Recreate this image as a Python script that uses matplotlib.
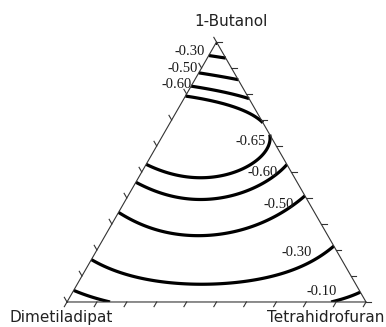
import numpy as np
import matplotlib
matplotlib.use("Agg")
import matplotlib.pyplot as plt
import matplotlib.tri as mtri

# components: A = 1-Butanol (top), B = Dimetiladipat (left), C = Tetrahidrofuran (right)
COMPONENTS = ["1-Butanol", "Dimetiladipat", "Tetrahidrofuran"]

# Scheffe quartic mixture model coefficients
LINEAR = [-0.078, 0.003, -0.053]          # A, B, C
BINARY = [-2.369, -2.055, -0.640]         # AB, AC, BC
CUBIC = [-1.276, -1.472, -0.171]          # AB(A-B), AC(A-C), BC(B-C)
QUARTIC = [-1.353, -0.663, -0.017]        # AB(A-B)^2, AC(A-C)^2, BC(B-C)^2
TERNARY = [7.156, -1.462, -1.703]         # A2BC, AB2C, ABC2

LEVELS = [-0.65, -0.60, -0.50, -0.30, -0.10]
LABELS = ["-0.30", "-0.50", "-0.60", "-0.65", "-0.60", "-0.50", "-0.30", "-0.10"]

H = np.sqrt(3) / 2


def response(a, b, c):
    z = LINEAR[0] * a + LINEAR[1] * b + LINEAR[2] * c
    pairs = [(a, b), (a, c), (b, c)]
    for k, (p, q) in enumerate(pairs):
        z += BINARY[k] * p * q
        z += CUBIC[k] * p * q * (p - q)
        z += QUARTIC[k] * p * q * (p - q) ** 2
    abc = a * b * c
    z += TERNARY[0] * abc * a + TERNARY[1] * abc * b + TERNARY[2] * abc * c
    return z


def to_xy(a, c):
    return c + a / 2, a * H


fig = plt.figure(figsize=(3.86, 3.27), dpi=100)
ax = fig.add_axes([0.1736, 0.0765, 0.7746, 0.795])
ax.set_xlim(0, 1)
ax.set_ylim(0, H)
ax.axis("off")

# triangular grid over the simplex
n = 160
ii, jj = np.meshgrid(np.arange(n + 1), np.arange(n + 1), indexing="ij")
keep = ii + jj <= n
a = ii[keep] / n
c = jj[keep] / n
b = 1 - a - c
x, y = to_xy(a, c)
tri = mtri.Triangulation(x, y)
z = response(a, b, c)

ax.tricontour(tri, z, levels=LEVELS, colors="black", linewidths=2.3,
              linestyles="solid")

# frame and ticks
edge = "#333333"
ax.plot([0, 1, 0.5, 0], [0, 0, H, 0], color=edge, lw=0.8, clip_on=False)
tl = 0.018
for k in range(11):
    t = k / 10
    # bottom edge (Tetrahidrofuran)
    ax.plot([t, t - 0.5 * tl], [0, -H * tl], color=edge, lw=0.8, clip_on=False)
    # right edge (1-Butanol)
    px, py = to_xy(t, 1 - t)
    ax.plot([px, px + tl], [py, py], color=edge, lw=0.8, clip_on=False)
    # left edge (Dimetiladipat)
    px, py = to_xy(1 - t, 0)
    ax.plot([px, px - 0.5 * tl], [py, py + H * tl], color=edge, lw=0.8, clip_on=False)

# contour value labels
label_pos = [(0.411, 0.834), (0.388, 0.779), (0.365, 0.726), (0.614, 0.535),
             (0.654, 0.430), (0.707, 0.324), (0.768, 0.164), (0.851, 0.035)]
for txt, (lx, ly) in zip(LABELS, label_pos):
    ax.text(lx, ly, txt, fontsize=10.5, family="Liberation Serif", color="#1a1a1a",
            ha="center", va="center", clip_on=False)

# vertex names
fig.text(0.598, 0.933, COMPONENTS[0], fontsize=11, color="#222222", ha="center", va="center")
fig.text(0.158, 0.028, COMPONENTS[1], fontsize=11, color="#222222", ha="center", va="center")
fig.text(0.845, 0.028, COMPONENTS[2], fontsize=11, color="#222222", ha="center", va="center")

fig.savefig("out.png", dpi=100)
